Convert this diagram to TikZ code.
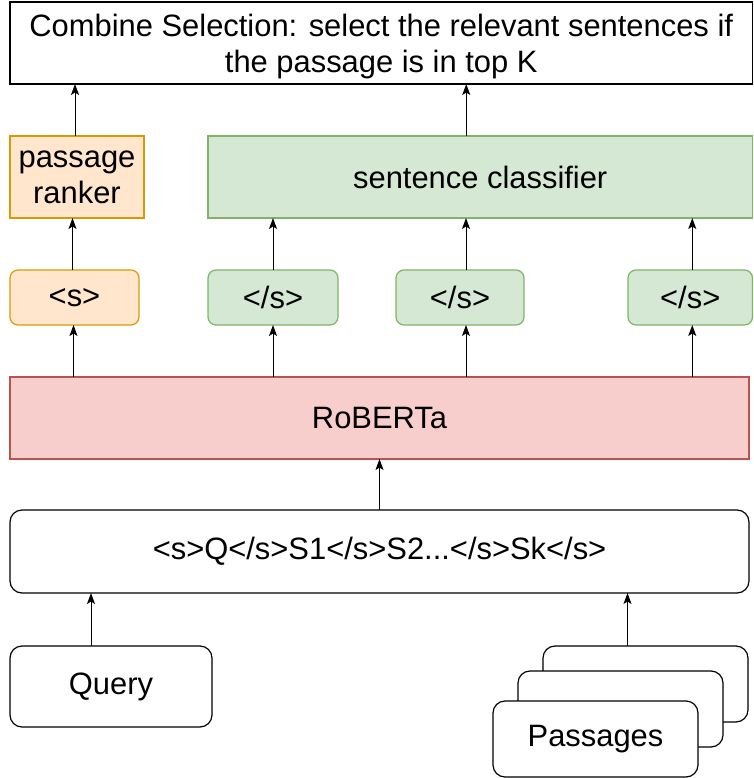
\documentclass[tikz,border=0pt]{standalone}
\usepackage{fontspec}
\setmainfont{Liberation Sans}
\usetikzlibrary{arrows.meta}
\definecolor{orfill}{HTML}{FFE6CC}
\definecolor{ordraw}{HTML}{D79B00}
\definecolor{grfill}{HTML}{D5E8D4}
\definecolor{grdraw}{HTML}{82B366}
\definecolor{rdfill}{HTML}{F8CECC}
\definecolor{rddraw}{HTML}{B85450}
\tikzset{
  base/.style={inner sep=0pt, outer sep=0pt, line width=1.2pt, align=center,
    font=\fontsize{30.9}{36}\selectfont},
  plainbox/.style={base, draw=black, fill=white},
  roundbox/.style={base, draw=black, fill=white, rounded corners=12pt},
  orbox/.style={base, draw=ordraw, fill=orfill},
  grbox/.style={base, draw=grdraw, fill=grfill},
  rdbox/.style={base, draw=rddraw, fill=rdfill},
  ortok/.style={orbox, rounded corners=8pt},
  grtok/.style={grbox, rounded corners=8pt},
  arr/.style={line width=1pt, -{Stealth[length=11pt,width=8pt,inset=2.5pt]}}
}
\begin{document}
\begin{tikzpicture}[x=1pt,y=-1pt]
\useasboundingbox (0,0) rectangle (753,778);
% top
\node[plainbox, minimum width=742.5pt, minimum height=82pt, text depth=-4pt] (top) at (381.25,43) {Combine Selection: select the relevant sentences if\\the passage is in top K};
% ranker and classifier
\node[orbox, minimum width=134pt, minimum height=82pt] (rank) at (77,177) {passage\\ranker};
\node[grbox, minimum width=544.5pt, minimum height=82pt] (cls) at (480.25,177) {sentence classifier};
% tokens
\node[ortok, minimum width=129pt, minimum height=55pt] (s0) at (74.5,297.5) {<s>};
\node[grtok, minimum width=130pt, minimum height=55pt] (t1) at (273,297.5) {</s>};
\node[grtok, minimum width=128pt, minimum height=55pt] (t2) at (460,297.5) {</s>};
\node[grtok, minimum width=124.5pt, minimum height=55pt] (t3) at (690.25,297.5) {</s>};
% roberta
\node[rdbox, minimum width=739pt, minimum height=82pt] (rob) at (379.5,418) {RoBERTa};
% input
\node[roundbox, minimum width=739pt, minimum height=83pt] (inp) at (379.5,551.5) {<s>Q</s>S1</s>S2...</s>Sk</s>};
% query
\node[roundbox, minimum width=202pt, minimum height=81pt] (qry) at (111,686.5) {Query};
% passages stack
\node[roundbox, minimum width=205pt, minimum height=76pt] (pback) at (645.5,684) {};
\node[roundbox, minimum width=205pt, minimum height=76pt] (pmid) at (620.5,709) {};
\node[roundbox, minimum width=205pt, minimum height=76pt] (pas) at (595.5,739) {Passages};
% arrows
\draw[arr] ([xshift=-20pt]qry.north) -- ([xshift=-20pt]qry.north |- inp.south);
\draw[arr] ([xshift=-18pt]pback.north) -- ([xshift=-18pt]pback.north |- inp.south);
\draw[arr] (inp.north) -- (inp.north |- rob.south);
\draw[arr] ([xshift=-1pt]s0.south |- rob.north) -- ([xshift=-1pt]s0.south);
\draw[arr] (t1.south |- rob.north) -- (t1.south);
\draw[arr] ([xshift=6pt]t2.south |- rob.north) -- ([xshift=6pt]t2.south);
\draw[arr] ([xshift=2pt]t3.south |- rob.north) -- ([xshift=2pt]t3.south);
\draw[arr] ([xshift=-2pt]s0.north) -- ([xshift=-2pt]s0.north |- rank.south);
\draw[arr] (t1.north) -- (t1.north |- cls.south);
\draw[arr] ([xshift=6pt]t2.north) -- ([xshift=6pt]t2.north |- cls.south);
\draw[arr] ([xshift=2pt]t3.north) -- ([xshift=2pt]t3.north |- cls.south);
\draw[arr] ([xshift=-2pt]rank.north) -- ([xshift=-2pt]rank.north |- top.south);
\draw[arr] ([xshift=-14pt]cls.north) -- ([xshift=-14pt]cls.north |- top.south);
\end{tikzpicture}
\end{document}
